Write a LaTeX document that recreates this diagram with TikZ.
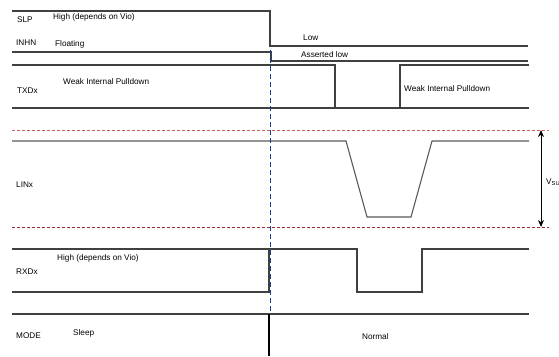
\documentclass[tikz,border=0pt]{standalone}
\usepackage{fontspec}
\setmainfont{Liberation Sans}
\usetikzlibrary{arrows.meta}

\begin{document}
\begin{tikzpicture}[x=1pt,y=-1pt,
    lbl/.style={anchor=west,inner sep=0pt,font=\fontsize{8.2}{9}\selectfont},
    sig/.style={draw=black!75,line width=1.1pt},
    lvl/.style={densely dashed,line width=0.8pt}]
 % Fija el area de la figura
    \useasboundingbox (0,0) rectangle (559,356);
    \clip (0,0) rectangle (559,356);

 % SLP e INHN
    \draw[sig] (12,11) -- (270,11) -- (270,46) -- (528,46);
    \draw[sig] (12,52) -- (271,52) -- (271,61) -- (528,61);
    \node[lbl] (slp) at (17,20) {SLP};
    \node[lbl] (slphigh) at (53,17) {High (depends on Vio)};
    \node[lbl] (inhn) at (16,43) {INHN};
    \node[lbl] (float) at (55,44) {Floating};
    \node[lbl] (low) at (303,38) {Low};
    \node[lbl] (asserted) at (301,55) {Asserted low};

 % TXDx
    \draw[sig] (12,65) -- (335,65) -- (335,108);
    \draw[sig] (400,108) -- (400,65) -- (529,65);
    \draw[sig] (12,108) -- (529,108);
    \node[lbl] (txd) at (17,91) {TXDx};
    \node[lbl] (pullA) at (63,82) {Weak Internal Pulldown};
    \node[lbl] (pullB) at (404,89) {Weak Internal Pulldown};

 % LINx y niveles
    \draw[lvl,draw={rgb,255:red,205;green,95;blue,90}] (12,130) -- (549,130);
    \draw[lvl,draw={rgb,255:red,150;green,45;blue,45}] (12,227) -- (549,227);
    \draw[sig,draw=black!65] (12,141) -- (346,141) -- (367,217) -- (411,217) -- (432,141) -- (529,141);
    \node[lbl] (lin) at (16,185) {LINx};
    \coordinate (vtop) at (541,130);
    \coordinate (vbot) at (541,227);
    \draw[{Stealth[length=7pt,width=6pt]}-{Stealth[length=7pt,width=6pt]},line width=0.9pt] (vtop) -- (vbot);
    \node[lbl] (vsup) at (546,182) {V\textsubscript{SUP}};

 % RXDx
    \draw[sig] (12,249) -- (357,249) -- (357,292) -- (422,292) -- (422,249) -- (529,249);
    \draw[sig] (12,292) -- (269,292) -- (269,249);
    \node[lbl] (rxd) at (16,272) {RXDx};
    \node[lbl] (rxdhigh) at (57,258) {High (depends on Vio)};

 % MODE
    \draw[sig] (12,314) -- (529,314);
    \draw[line width=1.1pt] (269,314) -- (269,356);
    \node[lbl] (mode) at (16,336) {MODE};
    \node[lbl] (sleep) at (73,333) {Sleep};
    \node[lbl] (normal) at (362,337) {Normal};

 % Linea de transicion
    \draw[dashed,line width=0.9pt,draw={rgb,255:red,30;green,60;blue,130},dash pattern=on 5pt off 3pt] (270.5,50) -- (270.5,313);
\end{tikzpicture}
\end{document}
